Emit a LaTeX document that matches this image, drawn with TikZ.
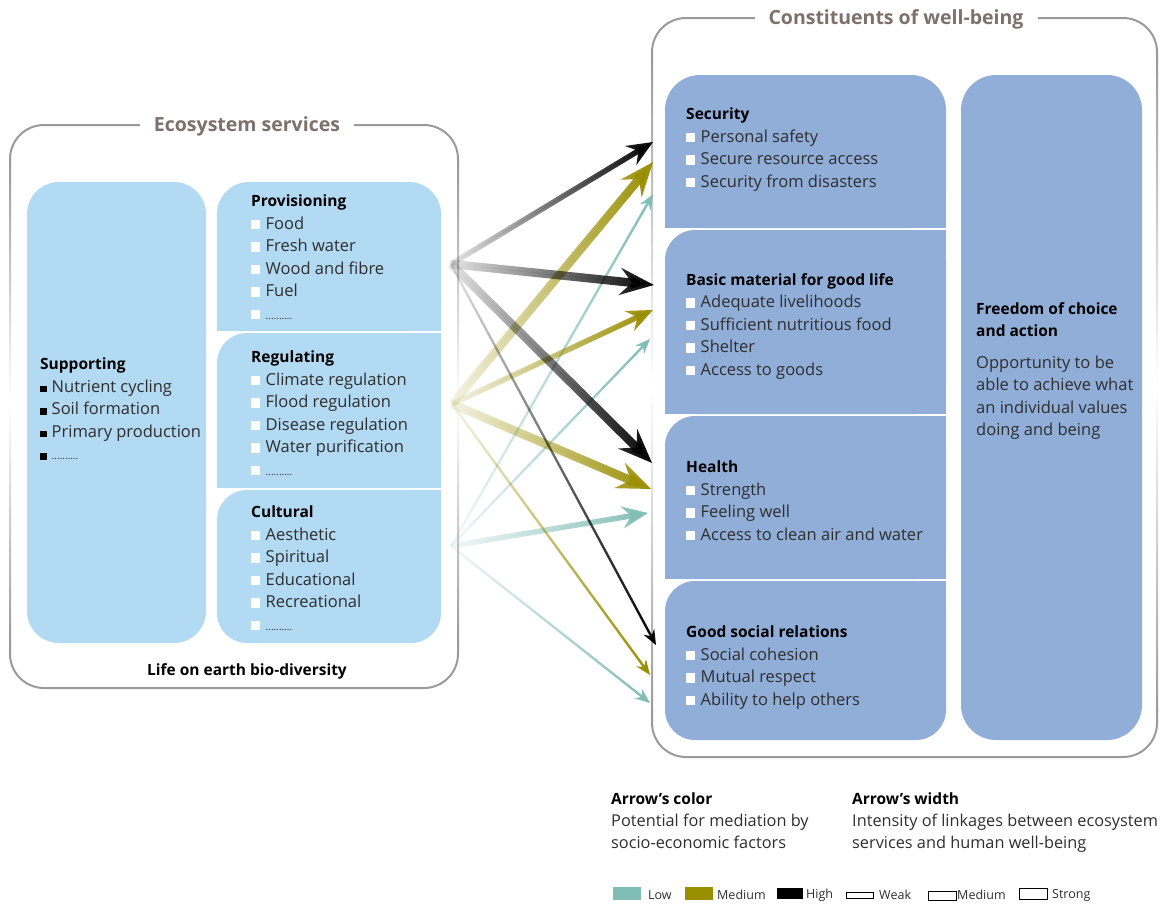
\documentclass[tikz,border=0pt]{standalone}
\usepackage{fontspec}
\setmainfont{Open Sans}
\usetikzlibrary{arrows.meta,fadings,positioning}

\definecolor{esblue}{HTML}{B2DAF3}
\definecolor{wbblue}{HTML}{91AED9}
\definecolor{lowcol}{HTML}{80BDB5}
\definecolor{medcol}{HTML}{998D00}
\definecolor{highcol}{HTML}{000000}
\definecolor{headcol}{HTML}{7D716B}
\definecolor{framecol}{HTML}{9A9A9A}
\definecolor{txtcol}{HTML}{2E2E2E}

\tikzfading[name=linkfade, left color=transparent!92, right color=transparent!0]

\newcommand{\wsq}{{\color{white}\rule{8.5pt}{9.5pt}}\hspace{6pt}}
\newcommand{\bsq}{{\color{black}\rule{6.5pt}{6.5pt}}\hspace{5pt}}
\newcommand{\more}{{\fontsize{10}{10}\selectfont ..........}}
\newcommand{\hd}[1]{{\fontsize{15.5}{22.5}\selectfont\bfseries\color{black}#1}}

\tikzset{
  frame/.style={draw=framecol, line width=2pt, rounded corners=34pt},
  frameside/.style={top color=framecol, bottom color=framecol, middle color=white},
  head/.style={fill=white, inner xsep=14pt, inner ysep=3pt, text=headcol, font=\fontsize{19.5}{24}\selectfont\bfseries},
  esbox/.style={fill=esblue},
  wbbox/.style={fill=wbblue},
  list/.style={anchor=north west, inner sep=0pt, align=left, text=txtcol, font=\fontsize{16.5}{22.5}\selectfont},
  note/.style={anchor=north west, inner sep=0pt, align=left, text=txtcol, font=\fontsize{16.3}{22}\selectfont},
  key/.style={anchor=west, inner sep=0pt, text=txtcol, font=\fontsize{12.5}{15}\selectfont},
  link/.style={path fading=linkfade},
  weaklink/.style={link, line width=2.4pt, -{Stealth[length=15pt,width=12pt,inset=5pt]}},
  mediumlink/.style={link, line width=5.5pt, -{Stealth[length=26pt,width=22pt,inset=9pt]}},
  stronglink/.style={link, line width=8.5pt, -{Stealth[length=34pt,width=27pt,inset=12pt]}},
  low/.style={draw=lowcol, fill=lowcol},
  med/.style={draw=medcol, fill=medcol},
  high/.style={draw=highcol, fill=highcol},
}

\begin{document}
\begin{tikzpicture}[x=1pt,y=-1pt]
\useasboundingbox (0,0) rectangle (1161,903);

% outer frames: solid corners, sides fading out
\draw[frame] (10,166) -- (10,125) -- (458,125) -- (458,166);
\draw[frame] (10,640) -- (10,688) -- (458,688) -- (458,640);
\shade[frameside] (9,165) rectangle (11,641);
\shade[frameside] (457,165) rectangle (459,641);
\draw[frame] (652,60) -- (652,18) -- (1157,18) -- (1157,60);
\draw[frame] (652,710) -- (652,757) -- (1157,757) -- (1157,710);
\shade[frameside] (651,59) rectangle (653,711);
\shade[frameside] (1156,59) rectangle (1158,711);
\node[head] (es-title) at (247,126) {Ecosystem services};
\node[head] (wb-title) at (896,19) {Constituents of well-being};

% ecosystem services boxes
\fill[esbox, rounded corners=32pt] (27,182) rectangle (206,643);
\fill[esbox, rounded corners=32pt] (217,182) rectangle (441,331);
\fill[esbox] (217,260) rectangle (441,331);
\fill[esbox, rounded corners=30pt] (217,333) rectangle (441,488);
\fill[esbox] (300,333) rectangle (441,488);
\fill[esbox] (217,400) rectangle (441,488);
\fill[esbox, rounded corners=30pt] (217,490) rectangle (441,643);
\fill[esbox] (300,490) rectangle (441,560);

% well-being boxes
\fill[wbbox, rounded corners=35pt] (665,75) rectangle (946,228);
\fill[wbbox] (665,150) rectangle (946,228);
\fill[wbbox, rounded corners=30pt] (665,230) rectangle (946,414);
\fill[wbbox] (760,230) rectangle (946,414);
\fill[wbbox] (665,320) rectangle (946,414);
\fill[wbbox, rounded corners=30pt] (665,416) rectangle (946,579);
\fill[wbbox] (760,416) rectangle (946,579);
\fill[wbbox] (665,500) rectangle (946,579);
\fill[wbbox, rounded corners=30pt] (665,581) rectangle (946,740);
\fill[wbbox] (760,581) rectangle (946,660);
\fill[wbbox, rounded corners=35pt] (961,75) rectangle (1142,740);

% service lists
\node[list] (supporting) at (40,358) {\hd{Supporting}\\ \bsq Nutrient cycling\\ \bsq Soil formation\\ \bsq Primary production\\ \bsq\more};
\node[list] (provisioning) at (251,195) {\hd{Provisioning}\\ \wsq Food\\ \wsq Fresh water\\ \wsq Wood and fibre\\ \wsq Fuel\\ \wsq\more};
\node[list] (regulating) at (251,351) {\hd{Regulating}\\ \wsq Climate regulation\\ \wsq Flood regulation\\ \wsq Disease regulation\\ \wsq Water purification\\ \wsq\more};
\node[list] (cultural) at (251,506) {\hd{Cultural}\\ \wsq Aesthetic\\ \wsq Spiritual\\ \wsq Educational\\ \wsq Recreational\\ \wsq\more};
\node[list, anchor=base] (biodiversity) at (247,675) {\hd{Life on earth bio-diversity}};

% well-being lists
\node[list] (security) at (686,108) {\hd{Security}\\ \wsq Personal safety\\ \wsq Secure resource access\\ \wsq Security from disasters};
\node[list] (material) at (686,273) {\hd{Basic material for good life}\\ \wsq Adequate livelihoods\\ \wsq Sufficient nutritious food\\ \wsq Shelter\\ \wsq Access to goods};
\node[list] (health) at (686,461) {\hd{Health}\\ \wsq Strength\\ \wsq Feeling well\\ \wsq Access to clean air and water};
\node[list] (social) at (686,626) {\hd{Good social relations}\\ \wsq Social cohesion\\ \wsq Mutual respect\\ \wsq Ability to help others};
\node[list] (freedom) at (976,302) {\hd{Freedom of choice}\\ \hd{and action}\\[9pt] Opportunity to be\\ able to achieve what\\ an individual values\\ doing and being};

% link end points
\coordinate (prov) at (451,264);
\coordinate (reg) at (452,404);
\coordinate (cult) at (451,546);
\coordinate (sec-h) at (653,142);
\coordinate (sec-m) at (653,162);
\coordinate (sec-l) at (653,194);
\coordinate (mat-h) at (654,285);
\coordinate (mat-m) at (653,310);
\coordinate (mat-l) at (650,339);
\coordinate (hea-h) at (652,463);
\coordinate (hea-m) at (651,489);
\coordinate (hea-l) at (648,513);
\coordinate (soc-h) at (656,645);
\coordinate (soc-m) at (650,675);
\coordinate (soc-l) at (650,703);

% links
\draw[weaklink, low] (cult) -- (sec-l);
\draw[weaklink, low] (cult) -- (mat-l);
\draw[weaklink, low] (cult) -- (soc-l);
\draw[mediumlink, low] (cult) -- (hea-l);
\draw[weaklink, med] (reg) -- (soc-m);
\draw[stronglink, med] (reg) -- (sec-m);
\draw[mediumlink, med] (reg) -- (mat-m);
\draw[stronglink, med] (reg) -- (hea-m);
\draw[weaklink, high] (prov) -- (soc-h);
\draw[mediumlink, high] (prov) -- (sec-h);
\draw[stronglink, high] (prov) -- (mat-h);
\draw[stronglink, high] (prov) -- (hea-h);

% legend
\node[note] (color-note) at (611,793) {\hd{Arrow's color}\\ Potential for mediation by\\ socio-economic factors};
\node[note] (width-note) at (852,793) {\hd{Arrow's width}\\ Intensity of linkages between ecosystem\\ services and human well-being};

\fill[lowcol] (613,887) rectangle (641,900);
\node[key] (low-key) at (648,895) {Low};
\fill[medcol] (685,887) rectangle (713,900);
\node[key] (med-key) at (717,895) {Medium};
\fill[highcol] (777,888) rectangle (803,899);
\node[key] (high-key) at (806,895) {High};
\draw[black, line width=0.8pt] (846,892) rectangle (873,898);
\node[key] (weak-key) at (879,895) {Weak};
\draw[black, line width=0.8pt] (928,891) rectangle (956,900);
\node[key] (medium-key) at (957,895) {Medium};
\draw[black, line width=0.8pt] (1019,888) rectangle (1047,899);
\node[key] (strong-key) at (1052,895) {Strong};
\end{tikzpicture}
\end{document}
